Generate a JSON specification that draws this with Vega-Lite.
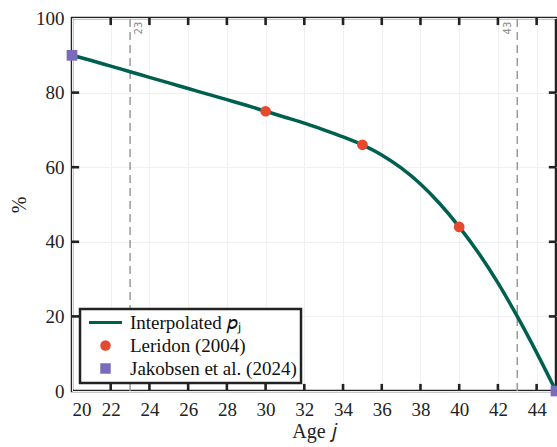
{
  "$schema": "https://vega.github.io/schema/vega-lite/v6.json",
  "width": 484,
  "height": 373,
  "autosize": {"type": "none"},
  "padding": {"left": 72, "top": 18, "right": 1, "bottom": 56},
  "background": "white",
  "datasets": {
    "curve": [
      {"age": 20, "pct": 90.0, "series": "Interpolated 𝑝ⱼ"},
      {"age": 21, "pct": 88.6, "series": "Interpolated 𝑝ⱼ"},
      {"age": 22, "pct": 87.1, "series": "Interpolated 𝑝ⱼ"},
      {"age": 23, "pct": 85.6, "series": "Interpolated 𝑝ⱼ"},
      {"age": 24, "pct": 84.1, "series": "Interpolated 𝑝ⱼ"},
      {"age": 25, "pct": 82.6, "series": "Interpolated 𝑝ⱼ"},
      {"age": 26, "pct": 81.1, "series": "Interpolated 𝑝ⱼ"},
      {"age": 27, "pct": 79.6, "series": "Interpolated 𝑝ⱼ"},
      {"age": 28, "pct": 78.1, "series": "Interpolated 𝑝ⱼ"},
      {"age": 29, "pct": 76.6, "series": "Interpolated 𝑝ⱼ"},
      {"age": 30, "pct": 75.0, "series": "Interpolated 𝑝ⱼ"},
      {"age": 31, "pct": 73.4, "series": "Interpolated 𝑝ⱼ"},
      {"age": 32, "pct": 71.8, "series": "Interpolated 𝑝ⱼ"},
      {"age": 33, "pct": 70.0, "series": "Interpolated 𝑝ⱼ"},
      {"age": 34, "pct": 68.1, "series": "Interpolated 𝑝ⱼ"},
      {"age": 35, "pct": 66.0, "series": "Interpolated 𝑝ⱼ"},
      {"age": 36, "pct": 63.3, "series": "Interpolated 𝑝ⱼ"},
      {"age": 37, "pct": 59.8, "series": "Interpolated 𝑝ⱼ"},
      {"age": 38, "pct": 55.5, "series": "Interpolated 𝑝ⱼ"},
      {"age": 39, "pct": 50.2, "series": "Interpolated 𝑝ⱼ"},
      {"age": 40, "pct": 44.0, "series": "Interpolated 𝑝ⱼ"},
      {"age": 41, "pct": 37.0, "series": "Interpolated 𝑝ⱼ"},
      {"age": 42, "pct": 29.0, "series": "Interpolated 𝑝ⱼ"},
      {"age": 43, "pct": 20.0, "series": "Interpolated 𝑝ⱼ"},
      {"age": 44, "pct": 10.3, "series": "Interpolated 𝑝ⱼ"},
      {"age": 45, "pct": 0.0, "series": "Interpolated 𝑝ⱼ"}
    ],
    "obs": [
      {"age": 30, "pct": 75, "series": "Leridon (2004)"},
      {"age": 35, "pct": 66, "series": "Leridon (2004)"},
      {"age": 40, "pct": 44, "series": "Leridon (2004)"},
      {"age": 20, "pct": 90, "series": "Jakobsen et al. (2024)"},
      {"age": 45, "pct": 0, "series": "Jakobsen et al. (2024)"}
    ],
    "marks": [
      {"age": 23, "top": 99, "label": "23", "side": "right"},
      {"age": 43, "top": 99, "label": "43", "side": "left"}
    ],
    "xticks": [
      {"age": 22}, {"age": 24}, {"age": 26}, {"age": 28}, {"age": 30}, {"age": 32},
      {"age": 34}, {"age": 36}, {"age": 38}, {"age": 40}, {"age": 42}, {"age": 44}
    ],
    "yticks": [{"pct": 20}, {"pct": 40}, {"pct": 60}, {"pct": 80}]
  },
  "layer": [
    {
      "data": {"name": "marks"},
      "mark": {"type": "rule", "color": "#999999", "strokeWidth": 1.5, "strokeDash": [8, 5]},
      "encoding": {
        "x": {
          "field": "age", "type": "quantitative",
          "scale": {"domain": [20, 45], "nice": false, "zero": false},
          "axis": {"values": [20, 22, 24, 26, 28, 30, 32, 34, 36, 38, 40, 42, 44], "title": "Age 𝑗", "titlePadding": 2, "labelPadding": 9}
        },
        "y": {
          "datum": 0, "type": "quantitative",
          "scale": {"domain": [0, 100], "nice": false},
          "axis": {"values": [0, 20, 40, 60, 80, 100], "title": "%", "titlePadding": 6, "labelPadding": 8}
        },
        "y2": {"datum": 100}
      }
    },
    {
      "data": {"name": "xticks"},
      "mark": {"type": "rule", "color": "#222222", "strokeWidth": 2.6},
      "encoding": {
        "x": {"field": "age", "type": "quantitative"},
        "y": {"datum": 0, "type": "quantitative"},
        "y2": {"datum": 1.9}
      }
    },
    {
      "data": {"name": "xticks"},
      "mark": {"type": "rule", "color": "#222222", "strokeWidth": 2.6},
      "encoding": {
        "x": {"field": "age", "type": "quantitative"},
        "y": {"datum": 98.1, "type": "quantitative"},
        "y2": {"datum": 100}
      }
    },
    {
      "data": {"name": "yticks"},
      "mark": {"type": "rule", "color": "#222222", "strokeWidth": 2.6},
      "encoding": {
        "y": {"field": "pct", "type": "quantitative"},
        "x": {"datum": 20, "type": "quantitative"},
        "x2": {"datum": 20.37}
      }
    },
    {
      "data": {"name": "yticks"},
      "mark": {"type": "rule", "color": "#222222", "strokeWidth": 2.6},
      "encoding": {
        "y": {"field": "pct", "type": "quantitative"},
        "x": {"datum": 44.63, "type": "quantitative"},
        "x2": {"datum": 45}
      }
    },
    {
      "data": {"name": "marks"},
      "transform": [{"filter": "datum.side === 'right'"}],
      "mark": {"type": "text", "font": "DejaVu Sans", "fontSize": 10, "color": "#888888", "angle": 270, "align": "right", "baseline": "top", "dy": 4},
      "encoding": {
        "x": {"field": "age", "type": "quantitative"},
        "y": {"field": "top", "type": "quantitative"},
        "text": {"field": "label"}
      }
    },
    {
      "data": {"name": "marks"},
      "transform": [{"filter": "datum.side === 'left'"}],
      "mark": {"type": "text", "font": "DejaVu Sans", "fontSize": 10, "color": "#888888", "angle": 270, "align": "right", "baseline": "bottom", "dy": -4},
      "encoding": {
        "x": {"field": "age", "type": "quantitative"},
        "y": {"field": "top", "type": "quantitative"},
        "text": {"field": "label"}
      }
    },
    {
      "data": {"name": "curve"},
      "mark": {"type": "line", "strokeWidth": 3.5, "interpolate": "monotone"},
      "encoding": {
        "x": {"field": "age", "type": "quantitative"},
        "y": {"field": "pct", "type": "quantitative"},
        "color": {
          "field": "series", "type": "nominal",
          "scale": {
            "domain": ["Interpolated 𝑝ⱼ", "Leridon (2004)", "Jakobsen et al. (2024)"],
            "range": ["#00604f", "#e5492f", "#7b6bbd"]
          }
        }
      }
    },
    {
      "data": {"name": "obs"},
      "mark": {"type": "point", "filled": true, "opacity": 1, "size": 115},
      "encoding": {
        "x": {"field": "age", "type": "quantitative"},
        "y": {"field": "pct", "type": "quantitative"},
        "color": {"field": "series", "type": "nominal"},
        "shape": {
          "field": "series", "type": "nominal",
          "scale": {
            "domain": ["Interpolated 𝑝ⱼ", "Leridon (2004)", "Jakobsen et al. (2024)"],
            "range": ["M-3.15,-0.3H3.15V0.3H-3.15Z", "circle", "square"]
          }
        }
      }
    }
  ],
  "config": {
    "font": "Liberation Serif",
    "view": {"stroke": "#222222", "strokeWidth": 2.5},
    "axis": {
      "labelFont": "Liberation Serif",
      "titleFont": "Liberation Serif",
      "labelFontSize": 19,
      "titleFontSize": 20,
      "titleFontWeight": "normal",
      "labelColor": "#222222",
      "titleColor": "#222222",
      "domain": false,
      "ticks": false,
      "grid": true,
      "gridColor": "#f0f0f0",
      "gridWidth": 1
    },
    "legend": {
      "title": null,
      "orient": "bottom-left",
      "offset": 8,
      "zindex": 2,
      "labelFont": "Liberation Serif",
      "labelFontSize": 19,
      "labelColor": "#111111",
      "labelLimit": 400,
      "symbolSize": 110,
      "symbolOpacity": 1,
      "symbolStrokeWidth": 0,
      "symbolOffset": 12,
      "strokeColor": "#222222",
      "strokeWidth": 2.5,
      "fillColor": "white",
      "padding": 4,
      "rowPadding": 3,
      "labelOffset": 15,
      "cornerRadius": 0
    }
  }
}
